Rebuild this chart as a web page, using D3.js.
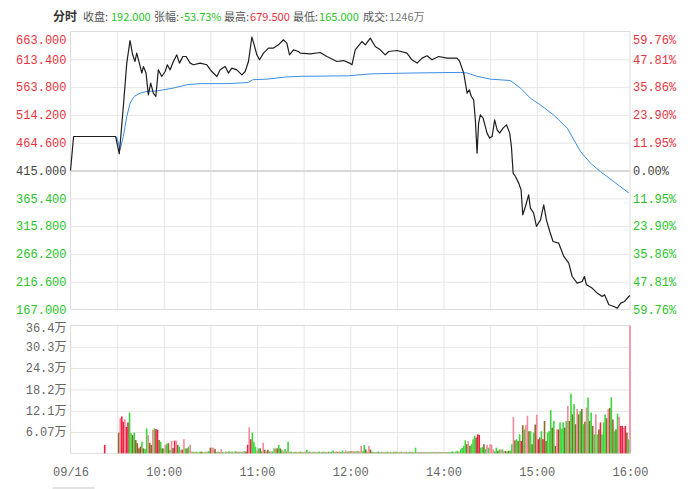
<!DOCTYPE html>
<html>
<head>
<meta charset="utf-8">
<script src="https://cdn.jsdelivr.net/npm/d3@7"></script>
<style>
  body { margin: 0; background: #fff; }
</style>
</head>
<body>
<div id="chart"></div>
<script>
// ---- data ----
const preClose = 415
const priceTicks = [663, 613.4, 563.8, 514.2, 464.6, 415, 365.4, 315.8, 266.2, 216.6, 167]
const pctLabels = ['59.76%', '47.81%', '35.86%', '23.90%', '11.95%', '0.00%', '11.95%', '23.90%', '35.86%', '47.81%', '59.76%']
const volTicks = [6.07, 12.1, 18.2, 24.3, 30.3, 36.4]   // 万
const timeTicks = [0, 60, 120, 180, 240, 300, 360]       // minutes since 09:00 (lunch removed)
const timeLabels = ['09/16', '10:00', '11:00', '12:00', '14:00', '15:00', '16:00']

const summaryLabels = ['收盘:', '张幅:', '最高:', '最低:', '成交:']
const summaryValues = ['192.000', '-53.73%', '679.500', '165.000', '1246万']
const summarySide = ['down', 'down', 'up', 'down', 'flat']

// [minute, price]
const price = [
  [0, 415], [2, 475.7], [29, 475.7], [31.4, 444.8], [34, 529.2], [36.2, 606.6], [38.3, 646.9],
  [40, 621.4], [41.5, 609.5], [42.6, 624.4], [44.3, 606.6], [45.9, 588.8], [46.9, 600.5],
  [48.6, 588.8], [50.1, 550], [51.6, 570.9], [53.3, 553.1], [54.9, 547], [56.5, 594.6],
  [58.7, 582.7], [60.9, 591.6], [62.3, 603.6], [64.1, 594.6], [66.2, 609.5], [68.4, 621.4],
  [70.1, 606.6], [72.3, 618.4], [74.4, 618.4], [77, 606.6], [79.1, 603.6], [83.4, 606.6],
  [87.7, 603.6], [90.9, 591.6], [94.2, 582.7], [96.3, 594.6], [99.5, 600.5], [101.6, 588.8],
  [103.8, 597.7], [107, 594.6], [110.3, 585.7], [112.4, 591.6], [114.5, 609.5], [116.7, 653],
  [118.2, 639.2], [119.9, 621.4], [121.6, 612.5], [124.2, 624.4], [127.4, 633.4], [130.6, 633.4],
  [133.8, 639.2], [137, 648.2], [139.2, 642.3], [140.9, 621.4], [143.5, 630.3], [146.7, 627.3],
  [147.8, 624.4], [154.2, 623.2], [160.7, 625.5], [165, 618.4], [171.4, 609.5], [175.7, 611.2],
  [179.5, 606.6], [181.1, 603.6], [183.2, 630.3], [187.5, 645.1], [189.7, 639.2], [192.9, 651.2],
  [196.1, 636.2], [199.3, 630.3], [202.5, 621.4], [204.7, 627.3], [210.1, 629.1], [216.5, 624.4],
  [219.7, 612.5], [223, 606.6], [226.2, 615.5], [229.4, 619.6], [232.6, 612.5], [236.9, 618.4],
  [242.3, 615.5], [248.7, 615.5], [250.4, 609.5], [253, 588.8], [255.2, 553.1], [256.6, 559],
  [257.9, 547], [259.4, 541.1], [260.5, 505.4], [261.6, 446], [262.6, 499.6], [263.7, 514.4],
  [265.5, 508.5], [268, 481.7], [269.7, 472.8], [271.3, 475.7], [272.9, 505.4], [274.5, 487.6],
  [276.1, 481.7], [278.3, 490.6], [280.5, 496.5], [282.6, 481.7], [283.7, 457.8], [284.8, 410.4],
  [286.3, 404.3], [288.4, 392.5], [289.9, 380.6], [291, 336], [292.7, 350.8], [294.8, 371.6],
  [295.9, 347.9], [298, 339], [299.8, 315.1], [302.4, 327], [304.5, 353.8], [306.2, 327],
  [308.4, 306.2], [310.5, 288.3], [314.1, 285.5], [317.4, 261.6], [320.6, 249.8], [322.8, 225.9],
  [326, 214.1], [329.2, 216.9], [330.7, 225.9], [332, 211.1], [335.6, 205.2], [338.9, 196.3],
  [342.1, 190.2], [343.6, 193.2], [346.4, 175.4], [349.6, 172.4], [351.8, 169.5], [354, 178.4],
  [356.5, 181.3], [359.2, 190.2], [360, 192]
]

// [minute, average price]
const avgPrice = [
  [29.8, 475], [31.9, 452], [34, 475.7], [36.2, 511], [38.3, 535], [40.9, 547], [44.8, 553],
  [49.1, 556], [55.5, 557], [59.8, 559], [66.2, 562], [74.8, 568], [83.4, 570], [100.6, 570],
  [114.5, 572], [117.3, 577], [126.4, 578], [139.2, 582], [147.8, 583], [179, 584], [194, 587.5],
  [220.8, 589], [250.8, 590], [255.2, 589], [261.6, 583], [270.2, 578], [283, 575.5], [289.5, 562],
  [295.9, 544], [302.4, 532], [310.9, 514], [319.6, 490.6], [328.1, 449], [334.6, 428], [341, 413],
  [349.6, 395], [359.2, 375]
]

// [minute, volume in 万, side]  side: r up, p up (light), g down, b mixed
const volume = [
  [22, 2.4, 'r'],
  [31, 5.9, 'b'], [32, 10, 'p'], [33, 10.5, 'r'], [34, 9, 'r'], [35, 9.7, 'p'], [36, 7.5, 'r'], [37, 8.8, 'r'],
  [38, 11.6, 'g'], [39, 5.7, 'g'], [40, 5.2, 'b'], [41, 5.9, 'g'], [42, 3.8, 'b'], [43, 2.9, 'b'], [44, 1.4, 'b'],
  [45, 1.9, 'r'], [46, 3.3, 'g'], [47, 1.4, 'b'], [48, 1.2, 'g'], [49, 7.1, 'g'], [50, 5.2, 'p'], [51, 3, 'b'],
  [52, 2.4, 'b'], [53, 6.7, 'p'], [54, 7.1, 'g'], [55, 6.9, 'r'], [56, 6.7, 'r'], [57, 3.8, 'b'], [58, 3.3, 'g'],
  [59, 1.4, 'b'], [60, 1.4, 'g'], [61, 2.4, 'p'], [62, 2.7, 'g'], [63, 2.9, 'b'], [64, 1, 'g'], [65, 3.5, 'p'],
  [66, 1.5, 'b'], [67, 3.6, 'r'], [68, 3.6, 'p'], [69, 2.4, 'b'], [70, 1.9, 'g'], [71, 1, 'p'], [72, 1.1, 'b'],
  [73, 4, 'p'], [74, 1.4, 'g'], [75, 1.4, 'b'], [76, 1.9, 'g'], [77, 2.4, 'p'],
  [78, 0.5, 'p'], [79, 0.4, 'g'], [80, 0.4, 'p'], [81, 0.5, 'g'], [82, 0.3, 'p'], [83, 0.4, 'g'], [84, 0.5, 'b'],
  [85, 0.4, 'g'], [86, 0.3, 'p'], [87, 0.4, 'g'], [88, 0.5, 'p'], [89, 0.6, 'g'],
  [90, 1.6, 'b'], [91, 1.6, 'p'], [92, 1.6, 'p'], [93, 1.2, 'b'],
  [94, 0.4, 'g'], [95, 0.5, 'p'], [96, 0.4, 'g'], [97, 1.2, 'p'], [98, 0.4, 'g'], [99, 0.3, 'p'], [100, 0.5, 'g'],
  [101, 0.4, 'p'], [102, 0.6, 'g'], [103, 0.4, 'p'], [104, 0.5, 'g'], [105, 0.3, 'p'], [106, 0.6, 'g'],
  [107, 0.5, 'p'], [108, 0.4, 'g'], [109, 0.5, 'p'], [110, 0.4, 'g'], [111, 0.5, 'p'], [112, 0.6, 'g'], [113, 0.5, 'b'],
  [114, 2.4, 'r'], [115, 7.4, 'p'], [116, 4, 'r'], [117, 5.9, 'g'], [118, 3.3, 'g'], [119, 1.9, 'g'], [120, 0.8, 'p'],
  [121, 1.4, 'g'], [122, 1.4, 'b'], [123, 0.6, 'g'], [124, 3, 'p'], [125, 1, 'b'], [126, 0.6, 'p'], [127, 1, 'b'],
  [128, 0.5, 'g'], [129, 0.6, 'p'], [130, 0.5, 'g'], [131, 1.4, 'g'], [132, 1.4, 'p'], [133, 1.4, 'b'], [134, 2.4, 'g'],
  [135, 1.4, 'b'], [136, 1, 'g'], [137, 0.6, 'p'], [138, 1.2, 'g'], [139, 0.6, 'p'], [140, 3.3, 'g'],
  [141, 0.4, 'p'], [142, 0.5, 'g'], [143, 0.3, 'p'], [144, 0.4, 'g'], [145, 0.5, 'p'], [146, 0.3, 'g'], [147, 0.4, 'p'],
  [148, 0.5, 'g'], [149, 0.4, 'p'], [150, 0.3, 'g'], [151, 0.5, 'p'], [152, 1, 'g'], [153, 0.4, 'p'], [154, 0.5, 'g'],
  [155, 0.3, 'p'], [156, 0.4, 'g'], [157, 0.5, 'p'], [158, 0.3, 'g'], [159, 0.4, 'p'], [160, 0.5, 'g'], [161, 0.3, 'p'],
  [162, 0.4, 'g'], [163, 0.5, 'p'], [164, 0.4, 'g'], [165, 0.3, 'p'], [166, 0.5, 'g'], [167, 0.4, 'p'], [168, 0.5, 'g'],
  [169, 0.8, 'g'], [170, 0.4, 'p'], [171, 0.6, 'p'], [172, 0.4, 'g'], [173, 0.5, 'p'], [174, 0.4, 'g'], [175, 0.8, 'g'],
  [176, 0.4, 'p'], [177, 0.8, 'p'], [178, 0.5, 'g'], [179, 0.6, 'p'],
  [180, 0.6, 'g'], [181, 0.7, 'p'], [182, 0.6, 'p'], [183, 0.5, 'g'], [184, 0.7, 'p'], [185, 0.6, 'g'], [186, 0.5, 'p'],
  [187, 2.1, 'p'], [188, 0.6, 'g'], [189, 2.4, 'g'], [190, 1.1, 'b'], [191, 0.5, 'p'], [192, 2.1, 'p'], [193, 1.1, 'b'],
  [194, 0.5, 'g'], [195, 0.4, 'p'], [196, 0.3, 'g'], [197, 0.4, 'p'], [198, 0.5, 'g'], [199, 0.3, 'p'], [200, 0.4, 'g'],
  [201, 0.4, 'p'], [202, 0.3, 'g'], [203, 0.4, 'p'], [204, 0.5, 'g'], [205, 0.3, 'p'], [206, 0.4, 'g'], [207, 0.3, 'p'],
  [208, 0.4, 'g'], [209, 0.5, 'p'], [210, 0.4, 'g'], [211, 0.3, 'p'], [212, 0.4, 'g'], [213, 0.5, 'p'], [214, 0.3, 'g'],
  [215, 0.4, 'p'], [216, 0.4, 'g'], [217, 0.3, 'p'], [218, 0.4, 'g'], [219, 0.5, 'p'], [220, 0.4, 'g'], [221, 0.3, 'p'],
  [222, 1.6, 'g'], [223, 0.4, 'p'], [224, 0.3, 'g'], [225, 0.4, 'p'], [226, 0.3, 'g'], [227, 0.4, 'p'], [228, 0.3, 'g'],
  [229, 0.4, 'p'], [230, 0.3, 'g'], [231, 0.4, 'p'], [232, 0.3, 'g'], [233, 0.4, 'p'], [234, 0.3, 'g'], [235, 0.4, 'p'],
  [236, 0.3, 'g'], [237, 0.4, 'p'], [238, 0.3, 'g'], [239, 0.4, 'p'], [240, 0.3, 'g'], [241, 0.4, 'p'], [242, 0.3, 'g'],
  [243, 0.4, 'p'], [244, 0.3, 'g'], [245, 0.4, 'g'], [246, 0.5, 'g'], [247, 0.3, 'p'], [248, 0.5, 'g'],
  [249, 0.7, 'g'], [250, 0.5, 'p'], [251, 1.1, 'g'], [252, 1.5, 'g'], [253, 2.1, 'g'], [254, 3.7, 'g'], [255, 2.6, 'b'],
  [256, 3.5, 'p'], [257, 2.1, 'b'], [258, 2.6, 'g'], [259, 4, 'g'], [260, 5, 'g'], [261, 4.5, 'b'], [262, 5.4, 'r'],
  [263, 5.2, 'r'], [264, 1.6, 'g'], [265, 1.8, 'g'], [266, 2.6, 'b'], [267, 1.2, 'g'], [268, 2.4, 'p'], [269, 1.6, 'g'],
  [270, 2.6, 'p'], [271, 2.4, 'p'], [272, 1.1, 'p'], [273, 0.6, 'g'], [274, 1.6, 'g'], [275, 0.7, 'b'], [276, 1.1, 'g'],
  [277, 1.1, 'p'], [278, 1.1, 'g'], [279, 0.6, 'p'], [280, 0.7, 'b'], [281, 0.5, 'g'], [282, 0.7, 'b'], [283, 0.8, 'g'],
  [284, 2.6, 'g'], [285, 10.4, 'p'], [286, 3.7, 'b'], [287, 4, 'g'], [288, 3.5, 'b'], [289, 5.4, 'g'], [290, 3.5, 'r'],
  [291, 8, 'b'], [292, 6.8, 'g'], [293, 8, 'p'], [294, 10.7, 'p'], [295, 6.3, 'b'], [296, 6.3, 'g'], [297, 2.6, 'b'],
  [298, 5.9, 'g'], [299, 8.2, 'b'], [300, 11, 'p'], [301, 4, 'r'], [302, 4.5, 'b'], [303, 6.3, 'g'], [304, 4, 'r'],
  [305, 9.2, 'b'], [306, 3.5, 'b'], [307, 5.9, 'g'], [308, 6.3, 'g'], [309, 12.3, 'g'], [310, 7.3, 'b'], [311, 9.2, 'g'],
  [312, 2.1, 'b'], [313, 6.8, 'p'], [314, 6.8, 'r'], [315, 8.8, 'g'], [316, 7, 'g'], [317, 8.8, 'g'], [318, 7.3, 'b'],
  [319, 9.2, 'g'], [320, 13.5, 'p'], [321, 9.2, 'b'], [322, 17, 'g'], [323, 11.1, 'b'], [324, 14, 'g'], [325, 8.3, 'b'],
  [326, 12.6, 'p'], [327, 11.1, 'b'], [328, 12, 'g'], [329, 12.6, 'b'], [330, 8.3, 'g'], [331, 9, 'b'], [332, 13, 'p'],
  [333, 15.9, 'g'], [334, 9.2, 'b'], [335, 11.6, 'g'], [336, 7.8, 'b'], [337, 5.4, 'g'], [338, 11.1, 'p'], [339, 5.4, 'g'],
  [340, 6.8, 'b'], [341, 8.8, 'r'], [342, 5.4, 'g'], [343, 8.8, 'g'], [344, 11.1, 'g'], [345, 10, 'b'], [346, 12.6, 'p'],
  [347, 12.9, 'b'], [348, 16, 'g'], [349, 9.6, 'b'], [350, 6.3, 'g'], [351, 6.8, 'b'], [352, 11.3, 'g'], [353, 10.4, 'p'],
  [354, 7.8, 'r'], [355, 7.8, 'r'], [356, 7.3, 'p'], [357, 7.8, 'r'], [358, 5.9, 'b'], [359, 4, 'g'],
  [360, 36.4, 'p']
]

// ---- drawing ----
const width = 700, height = 489
const left = 70.5, right = 630
const priceTop = 31.5, priceBottom = 309.5
const volTop = 325.5, volBottom = 453.3

const RED = '#e8323e', GREEN = '#27c427', NEUTRAL = '#444', GRAY = '#666'
const barColor = { r: '#ec1f45', p: '#f2899b', g: '#3bd83b', b: '#8a6a2a' }
const monoFont = '"Liberation Mono", "Noto Sans CJK SC", monospace'
const cjkFont = '"Noto Sans CJK SC", sans-serif'

const x = d3.scaleLinear().domain([0, 360]).range([left, right])
const y = d3.scaleLinear().domain([167, 663]).range([priceBottom, priceTop])
const yv = d3.scaleLinear().domain([0, 36.4]).range([volBottom, volTop])

const svg = d3.select('#chart').append('svg')
  .attr('width', width)
  .attr('height', height)
  .attr('viewBox', [0, 0, width, height])
  .style('font-family', monoFont)

const sideColor = v => v > preClose ? RED : v < preClose ? GREEN : NEUTRAL

// title line, laid out left to right; each piece starts at its spot in the
// reference unless the previous piece still runs there
const titleStart = [83, 111, 154, 180, 224, 250, 293, 319, 363, 388]
const title = svg.append('g')
let cursor = 0
function titlePiece(text, xWant, color, size, bold) {
  const t = title.append('text')
    .attr('x', Math.max(xWant, cursor + 1)).attr('y', 21)
    .attr('fill', color)
    .attr('font-weight', bold ? 'bold' : null)
    .style('font-family', cjkFont)
    .style('font-size', size + 'px')
    .text(text)
  cursor = +t.attr('x') + t.node().getComputedTextLength()
}
titlePiece('分时', 53, '#333', 12, true)
summaryLabels.forEach((lab, i) => {
  titlePiece(lab, titleStart[2 * i], '#555', 11)
  titlePiece(summaryValues[i], titleStart[2 * i + 1],
    summarySide[i] === 'up' ? RED : summarySide[i] === 'down' ? GREEN : '#777', 11)
})

// gridlines
const gridColor = '#e6e6e6'
function vGrid(top, bottom) {
  svg.append('g')
    .attr('transform', `translate(0,${bottom})`)
    .call(d3.axisBottom(x).tickValues(d3.range(30, 360, 30)).tickSize(-(bottom - top)).tickFormat(''))
    .call(g => g.select('.domain').remove())
    .call(g => g.selectAll('.tick line').attr('stroke', gridColor))
}
vGrid(priceTop, priceBottom)
vGrid(volTop, volBottom)

svg.append('g')
  .attr('transform', `translate(${left},0)`)
  .call(d3.axisLeft(y).tickValues(priceTicks.slice(1, -1)).tickSize(-(right - left)).tickFormat(''))
  .call(g => g.select('.domain').remove())
  .call(g => g.selectAll('.tick line')
    .attr('stroke', d => d === preClose ? '#d8d8d8' : gridColor)
    .attr('stroke-width', d => d === preClose ? 2 : 1))

svg.append('g')
  .attr('transform', `translate(${left},0)`)
  .call(d3.axisLeft(yv).tickValues(volTicks.slice(0, -1)).tickSize(-(right - left)).tickFormat(''))
  .call(g => g.select('.domain').remove())
  .call(g => g.selectAll('.tick line').attr('stroke', gridColor))

// panel borders
;[[priceTop, priceBottom], [volTop, volBottom]].forEach(([t, b]) => {
  svg.append('rect')
    .attr('x', left).attr('y', t)
    .attr('width', right - left).attr('height', b - t)
    .attr('fill', 'none').attr('stroke', '#dcdcdc')
})

// price axes labels
svg.append('g')
  .attr('transform', `translate(${left},0)`)
  .call(d3.axisLeft(y).tickValues(priceTicks).tickSize(0).tickPadding(4).tickFormat(d3.format('.3f')))
  .call(g => g.select('.domain').remove())
  .call(g => g.selectAll('text')
    .attr('fill', d => sideColor(d))
    .style('font-family', monoFont).style('font-size', '12px')
    .attr('transform', d => d === priceTicks[0] ? 'translate(0,8)' : null))

svg.append('g')
  .attr('transform', `translate(${right},0)`)
  .call(d3.axisRight(y).tickValues(priceTicks).tickSize(0).tickPadding(3).tickFormat((d, i) => pctLabels[i]))
  .call(g => g.select('.domain').remove())
  .call(g => g.selectAll('text')
    .attr('fill', d => sideColor(d))
    .style('font-family', monoFont).style('font-size', '12px')
    .attr('transform', d => d === priceTicks[0] ? 'translate(0,8)' : null))

// volume axis labels
svg.append('g')
  .attr('transform', `translate(${left},0)`)
  .call(d3.axisLeft(yv).tickValues(volTicks).tickSize(0).tickPadding(4).tickFormat(d => d + '万'))
  .call(g => g.select('.domain').remove())
  .call(g => g.selectAll('text')
    .attr('fill', GRAY)
    .style('font-family', monoFont).style('font-size', '12px')
    .attr('transform', d => d === volTicks[volTicks.length - 1] ? 'translate(0,2)' : null))

// time axis labels
svg.append('g')
  .attr('transform', `translate(0,${volBottom})`)
  .call(d3.axisBottom(x).tickValues(timeTicks).tickSize(0).tickPadding(14).tickFormat((d, i) => timeLabels[i]))
  .call(g => g.select('.domain').remove())
  .call(g => g.selectAll('text')
    .attr('fill', GRAY)
    .style('font-family', monoFont).style('font-size', '12px'))

// small gray tab under the date
svg.append('rect')
  .attr('x', x(0) - 18).attr('y', 487)
  .attr('width', 42).attr('height', 3)
  .attr('fill', '#e2e2e2')

// volume bars
svg.append('g')
  .selectAll('rect')
  .data(volume)
  .join('rect')
  .attr('x', d => x(d[0]) - 0.8)
  .attr('width', 1.6)
  .attr('y', d => yv(d[1]))
  .attr('height', d => yv(0) - yv(d[1]))
  .attr('fill', d => barColor[d[2]])

// average price line
const line = d3.line()
  .x(d => x(d[0]))
  .y(d => y(d[1]))

svg.append('path')
  .attr('fill', 'none')
  .attr('stroke', '#3d8fe6')
  .attr('stroke-width', 1)
  .attr('d', line(avgPrice))

// price line
svg.append('path')
  .attr('fill', 'none')
  .attr('stroke', '#1e1e1e')
  .attr('stroke-width', 1.2)
  .attr('stroke-linejoin', 'round')
  .attr('d', line(price))
</script>
</body>
</html>
